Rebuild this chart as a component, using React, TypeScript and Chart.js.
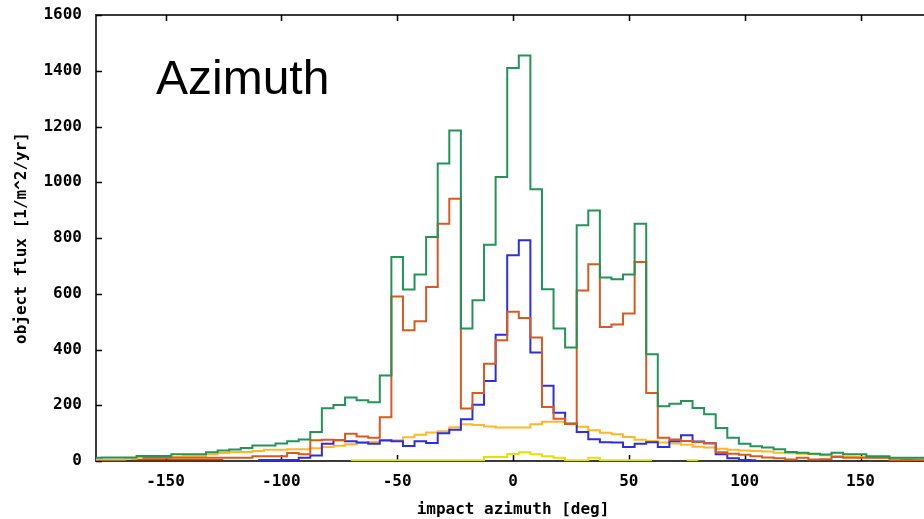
import React, { useEffect, useRef } from "react";
import { Chart, registerables } from "chart.js";

Chart.register(...registerables);

// bin centres (deg)
const centers = [
  -180, -175, -170, -165, -160, -155, -150, -145, -140, -135, -130, -125, -120, -115, -110, -105,
  -100, -95, -90, -85, -80, -75, -70, -65, -60, -55, -50, -45, -40, -35, -30, -25, -20, -15, -10, -5,
  0, 5, 10, 15, 20, 25, 30, 35, 40, 45, 50, 55, 60, 65, 70, 75, 80, 85, 90, 95, 100, 105, 110, 115,
  120, 125, 130, 135, 140, 145, 150, 155, 160, 165, 170, 175, 180,
];

const greenSeries = [
  12, 13, 13, 13, 18, 18, 18, 24, 24, 24, 31, 38, 41, 47, 56, 56,
  63, 71, 77, 104, 189, 201, 228, 218, 211, 307, 732, 615, 669, 804, 1067, 1186, 475, 577, 776, 1019,
  1410, 1455, 975, 616, 475, 407, 846, 899, 658, 652, 669, 851, 383, 196, 205, 215, 190, 168, 118, 83, 62, 53, 48, 42,
  32, 30, 26, 23, 30, 24, 24, 17, 17, 12, 12, 12, 12,
];

const redSeries = [
  null, null, null, null, 12, 12, 12, 12, 12, 12, 12, 12, 12, 12, 17, 17,
  17, 29, 24, 74, 76, 75, 98, 88, 83, 157, 590, 469, 501, 624, 851, 941, 188, 244, 349, 433,
  535, 513, 443, 194, 152, 133, 612, 706, 481, 490, 529, 714, 244, 83, 77, 72, 68, 64, 31, 26, 22, 17, 13, 10,
  5, 12, 5, 6, 14, 12, 12, 12, 12, 3, 4, 3, 3,
];

const blueSeries = [
  null, null, null, null, null, null, null, null, null, null, null, null, null, null, 4, 4,
  4, 4, 12, 20, 62, 74, 71, 66, 62, 74, 71, 54, 71, 65, 100, 112, 150, 202, 287, 453,
  738, 792, 389, 270, 173, 134, 104, 78, 67, 66, 50, 62, 67, 50, 71, 92, 70, 64, 24, 10, 4, 3, null, null,
  null, null, null, null, null, null, null, null, null, null, null, null, null,
];

const goldSeries = [
  5, 5, 5, 8, 12, 12, 12, 14, 17, 17, 24, 29, 32, 32, 36, 40,
  40, 42, 42, 46, 50, 55, 60, 65, 68, 72, 74, 85, 94, 102, 107, 121, 132, 129, 124, 120,
  120, 120, 132, 141, 141, 135, 123, 110, 101, 96, 86, 76, 72, 66, 63, 58, 51, 48, 44, 40, 38, 36, 34, 30,
  28, 26, 24, 21, 18, 15, 14, 13, 12, 10, 8, 6, 6,
];

const yellowSeries = [
  null, null, null, null, null, null, null, null, null, null, null, null, null, null, null, null,
  null, null, null, null, null, null, 3, 3, 3, 3, 3, 3, 3, 3, 3, 3, 3, 3, 14, 14,
  25, 31, 24, 17, 12, 3, 3, 12, 3, 3, 3, 3, 3, null, null, 3, 3, null, null, null, null, null, null, null,
  null, null, null, null, null, null, null, null, null, null, null, null, null,
];

const brownSeries = [
  3, 3, null, 3, 3, 3, 3, 3, 3, 3, 3, 3, null, null, null, null,
  null, null, null, null, null, null, null, null, null, null, null, null, null, null, null, null, null, null, null, null,
  null, null, null, null, null, null, null, null, null, null, null, null, null, null, null, null, null, null, null, null, null, null, null, null,
  null, null, null, null, null, null, null, null, null, null, null, null, null,
];

const xTickValues = [-150, -100, -50, 0, 50, 100, 150];
const yTickStep = 200;

const monoFont = { family: "'DejaVu Sans Mono', monospace", weight: "bold" as const, size: 16 };

const toPoints = (vals: (number | null)[]) => centers.map((c, i) => ({ x: c, y: vals[i] }));

const framePlugin = {
  id: "gnuFrame",
  beforeDatasetsDraw(chart: any) {
    const { ctx, chartArea, scales } = chart;
    const { left, right, top, bottom } = chartArea;
    ctx.save();
    ctx.strokeStyle = "#3a3a3a";
    ctx.lineWidth = 2;
    ctx.strokeRect(left, top, right - left, bottom - top);
    ctx.strokeStyle = "#000";
    ctx.lineWidth = 1.5;
    ctx.beginPath();
    scales.x.ticks.forEach((t: any) => {
      const px = Math.round(scales.x.getPixelForValue(t.value)) + 0.5;
      ctx.moveTo(px, bottom);
      ctx.lineTo(px, bottom - 6);
      ctx.moveTo(px, top);
      ctx.lineTo(px, top + 6);
    });
    scales.y.ticks.forEach((t: any) => {
      const py = Math.round(scales.y.getPixelForValue(t.value)) + 0.5;
      ctx.moveTo(left, py);
      ctx.lineTo(left + 6, py);
      ctx.moveTo(right, py);
      ctx.lineTo(right - 6, py);
    });
    ctx.stroke();
    ctx.restore();
  },
  afterDraw(chart: any) {
    const { ctx } = chart;
    ctx.save();
    ctx.fillStyle = "#000";
    ctx.font = "48px 'Liberation Sans', Arial, sans-serif";
    ctx.textAlign = "left";
    ctx.textBaseline = "alphabetic";
    ctx.fillText("Azimuth", 156, 94);
    ctx.restore();
  },
};

export default function App() {
  const ref = useRef<HTMLCanvasElement>(null);

  useEffect(() => {
    if (!ref.current) return;
    const mk = (label: string, vals: (number | null)[], color: string) => ({
      label,
      data: toPoints(vals),
      borderColor: color,
      backgroundColor: color,
      borderWidth: 2,
      pointRadius: 0,
      stepped: "middle" as const,
      fill: false,
      spanGaps: false,
    });
    const chart = new Chart(ref.current, {
      type: "line",
      data: {
        datasets: [
          mk("green", greenSeries, "#23935a"),
          mk("red", redSeries, "#d85a22"),
          mk("blue", blueSeries, "#2e2ee0"),
          mk("gold", goldSeries, "#ffb82a"),
          mk("yellow", yellowSeries, "#e2e200"),
          mk("brown", brownSeries, "#7a2a00"),
        ],
      },
      plugins: [framePlugin],
      options: {
        animation: false,
        responsive: false,
        devicePixelRatio: 1,
        layout: { padding: { left: 0, right: 10, top: 15, bottom: 0 } },
        plugins: { legend: { display: false }, tooltip: { enabled: false } },
        scales: {
          x: {
            type: "linear",
            min: -180,
            max: 180,
            grid: { display: false, drawTicks: false },
            border: { display: false },
            afterBuildTicks: (s: any) => {
              s.ticks = xTickValues.map((v) => ({ value: v }));
            },
            afterFit: (s: any) => {
              s.height = 58;
              s.paddingLeft = 0;
              s.paddingRight = 0;
            },
            ticks: {
              padding: 11,
              color: "#000",
              font: monoFont,
              maxRotation: 0,
              autoSkip: false,
              callback: (v: any) => String(v),
            },
            title: {
              display: true,
              text: "impact azimuth [deg]",
              color: "#000",
              font: monoFont,
              padding: { top: 0, bottom: 0 },
            },
          },
          y: {
            type: "linear",
            min: 0,
            max: 1600,
            grid: { display: false, drawTicks: false },
            border: { display: false },
            afterFit: (s: any) => {
              s.width = 96;
              s.paddingTop = 0;
              s.paddingBottom = 0;
            },
            ticks: {
              stepSize: yTickStep,
              padding: 14,
              color: "#000",
              font: monoFont,
              callback: (v: any) => String(v),
            },
            title: {
              display: true,
              text: "object flux [1/m^2/yr]",
              color: "#000",
              font: monoFont,
              padding: { top: 12, bottom: 0 },
            },
          },
        },
      },
    });
    return () => chart.destroy();
  }, []);

  return (
    <div
      style={{
        position: "fixed",
        left: 0,
        top: 0,
        width: 924,
        height: 519,
        overflow: "hidden",
        background: "#fff",
      }}
    >
      <canvas ref={ref} width={940} height={519} style={{ display: "block", width: 940, height: 519 }} />
    </div>
  );
}
